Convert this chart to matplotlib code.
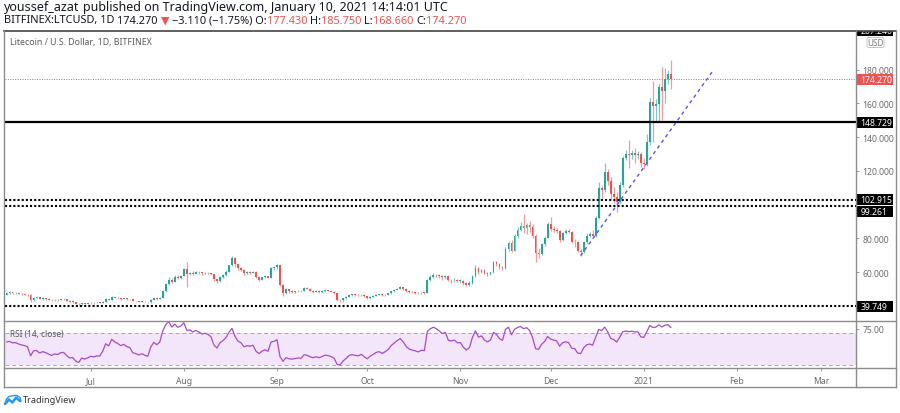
import numpy as np
import pandas as pd
import matplotlib
matplotlib.use("Agg")
import matplotlib.pyplot as plt
import matplotlib.dates as mdates
from matplotlib.lines import Line2D
from matplotlib.patches import Rectangle, FancyBboxPatch

plt.rcParams['font.family'] = ['Noto Sans', 'DejaVu Sans']

# LTC/USD daily candles, Bitfinex (first candle 2020-06-03)
start_date = "2020-06-03"

# May 14 - Jun 2 2020: only used to seed the RSI, not drawn
warmup_close = [43.5, 42.6, 43.9, 44.7, 45.2, 45.4, 43.8, 42.0, 43.3, 43.1,
                41.6, 42.6, 42.9, 45.2, 45.9, 45.8, 47.4, 46.2, 49.2, 46.6]

jun_close = [47.8, 48.1, 47.6, 47.7, 47.3, 47.0, 46.8, 46.5, 43.4, 45.0,
             45.1, 44.2, 44.6, 44.3, 43.8, 43.3, 43.7, 43.5, 43.9, 44.0,
             43.1, 42.4, 42.5, 41.4, 40.9, 41.7, 41.4, 41.6]
jun_high = [48.2, 48.9, 48.5, 48.1, 48.0, 47.6, 47.5, 47.3, 46.9, 45.6,
            45.8, 45.4, 45.1, 45.0, 44.6, 44.2, 44.2, 44.0, 44.3, 44.6,
            44.3, 43.4, 42.9, 42.6, 41.6, 41.9, 41.9, 42.0]
jun_low = [46.3, 47.3, 47.1, 47.2, 46.9, 46.6, 46.3, 46.1, 42.4, 43.1,
           44.6, 43.9, 43.7, 43.8, 43.4, 42.9, 43.1, 43.1, 43.3, 43.6,
           42.9, 42.1, 41.9, 41.1, 39.8, 40.6, 41.1, 41.0]

jul_close = [41.9, 41.7, 41.9, 41.8, 42.6, 44.1, 43.7, 45.4, 44.9, 44.6,
             44.2, 44.5, 44.1, 43.9, 42.9, 42.7, 42.4, 42.6, 42.3, 42.1,
             43.6, 44.6, 44.2, 44.8, 48.6, 52.8, 55.6, 54.3, 57.3, 56.4, 57.8]
jul_high = [42.2, 42.3, 42.2, 42.1, 42.9, 44.5, 44.4, 45.8, 45.6, 45.1,
            44.7, 44.8, 44.7, 44.3, 44.1, 43.2, 42.9, 42.9, 42.8, 42.6,
            43.9, 45.0, 45.1, 45.2, 49.7, 53.6, 57.2, 56.6, 58.1, 58.3, 58.6]
jul_low = [41.3, 41.3, 41.5, 41.5, 41.7, 42.4, 43.4, 43.6, 44.5, 44.1,
           43.8, 43.9, 43.8, 43.6, 42.7, 42.3, 42.1, 42.2, 42.1, 41.7,
           42.0, 43.5, 43.7, 43.9, 44.7, 48.2, 52.3, 53.6, 54.0, 55.8, 56.0]

aug_close = [61.8, 59.2, 59.8, 59.1, 60.4, 59.9, 59.3, 59.7, 59.4, 58.7,
             55.9, 54.7, 57.2, 58.4, 60.2, 64.1, 68.3, 64.9, 62.5, 61.6,
             59.3, 60.1, 59.8, 60.4, 57.1, 55.6, 56.9, 57.6, 56.8, 62.4, 62.9]
aug_high = [62.6, 65.8, 60.4, 60.5, 60.9, 60.8, 60.1, 60.1, 60.0, 59.8,
            59.1, 56.2, 57.6, 58.9, 61.3, 64.5, 69.4, 68.9, 65.1, 63.0,
            62.0, 60.6, 60.6, 61.0, 60.6, 57.6, 57.4, 58.2, 57.9, 62.9, 63.8]
aug_low = [57.5, 51.4, 58.6, 58.3, 58.7, 59.1, 58.3, 58.8, 58.7, 58.2,
           54.9, 53.6, 54.5, 56.8, 57.9, 59.9, 63.6, 63.2, 61.3, 60.6,
           58.6, 59.1, 59.1, 59.5, 56.5, 54.8, 55.3, 56.5, 56.4, 56.6, 61.5]

sep_close = [64.1, 52.4, 47.4, 49.9, 48.6, 48.2, 48.6, 48.9, 48.7, 50.6,
             50.2, 49.1, 48.4, 48.9, 48.2, 48.7, 49.3, 49.0, 48.5, 47.6,
             43.4, 43.3, 44.6, 45.5, 46.6, 46.9, 46.5, 46.3, 46.8, 45.8]
sep_high = [64.9, 64.3, 53.0, 50.4, 50.2, 49.2, 49.1, 49.5, 49.4, 51.2,
            51.1, 50.6, 49.4, 49.6, 49.2, 49.4, 49.8, 49.7, 49.3, 48.9,
            47.9, 44.4, 44.9, 46.0, 47.1, 47.3, 47.2, 46.9, 47.2, 46.9]
sep_low = [61.9, 51.6, 45.9, 46.9, 47.7, 47.6, 47.7, 48.2, 48.2, 48.6,
           49.8, 48.8, 47.9, 48.2, 47.8, 47.9, 48.4, 48.6, 48.1, 47.3,
           42.8, 42.4, 42.5, 44.4, 45.3, 46.2, 46.1, 45.9, 45.9, 45.4]

oct_close = [44.8, 45.6, 46.1, 46.7, 46.9, 46.3, 46.8, 47.4, 48.6, 49.4,
             50.3, 51.0, 50.2, 49.0, 48.3, 48.0, 47.8, 47.5, 47.9, 47.8,
             55.3, 57.2, 58.6, 58.2, 57.6, 56.9, 57.7, 55.4, 55.2, 55.6, 54.8]
oct_high = [46.1, 46.0, 46.4, 47.0, 47.3, 47.1, 47.2, 47.8, 49.0, 49.9,
            50.8, 51.7, 51.3, 50.4, 49.3, 48.7, 48.3, 48.1, 48.3, 48.3,
            56.1, 58.4, 59.4, 59.2, 58.8, 58.1, 58.3, 58.1, 56.2, 56.3, 56.2]
oct_low = [44.2, 44.3, 45.3, 45.9, 46.4, 45.9, 46.0, 46.5, 47.2, 48.4,
           49.2, 50.1, 49.6, 48.5, 47.6, 47.4, 47.2, 46.9, 47.2, 47.2,
           47.5, 54.6, 56.6, 57.4, 56.7, 55.6, 56.1, 54.8, 53.6, 54.3, 54.1]

nov_close = [54.9, 53.5, 52.6, 53.4, 57.9, 62.6, 60.3, 61.2, 59.6, 58.8,
             59.9, 65.8, 65.0, 63.2, 62.4, 73.9, 77.1, 72.8, 81.6, 85.3,
             87.6, 86.2, 88.2, 86.5, 81.6, 71.3, 70.6, 76.5, 80.3, 88.4]
nov_high = [55.8, 55.4, 54.0, 54.7, 58.6, 64.1, 63.2, 61.9, 62.1, 60.1,
            60.4, 66.7, 66.9, 65.6, 63.9, 75.1, 78.6, 78.9, 82.9, 86.6,
            89.9, 94.3, 89.2, 90.2, 88.7, 82.7, 74.6, 77.2, 81.4, 89.7]
nov_low = [53.9, 52.3, 51.6, 51.9, 53.1, 57.3, 58.9, 59.5, 58.9, 57.8,
           58.3, 59.4, 63.6, 61.9, 61.3, 62.0, 72.7, 71.9, 72.3, 80.5,
           84.3, 83.5, 82.6, 83.9, 80.2, 66.0, 68.5, 70.2, 75.4, 80.0]

dec_close = [85.8, 84.9, 84.2, 78.8, 83.4, 84.6, 83.9, 78.2, 77.9, 72.8,
             72.1, 78.0, 81.7, 82.6, 81.6, 92.4, 109.8, 108.6, 119.6, 114.3,
             106.3, 104.8, 101.5, 111.8, 127.5, 129.9, 129.2, 130.4, 129.6, 130.1, 124.6]
dec_high = [92.9, 87.2, 86.0, 84.9, 83.9, 85.6, 85.4, 84.5, 79.6, 78.3,
            73.6, 78.6, 83.0, 83.8, 84.8, 93.5, 113.7, 111.2, 124.8, 121.3,
            116.2, 110.4, 107.7, 113.4, 128.8, 132.5, 138.6, 132.6, 133.8, 131.9, 131.2]
dec_low = [84.6, 83.9, 83.3, 77.9, 78.3, 82.6, 83.0, 77.4, 74.8, 71.9,
           69.8, 71.6, 77.4, 80.6, 80.9, 80.8, 91.4, 103.9, 107.3, 111.5,
           103.6, 101.2, 95.8, 100.2, 110.6, 126.3, 121.8, 127.3, 124.9, 126.8, 122.4]

jan_close = [123.9, 137.2, 160.9, 158.4, 159.6, 169.7, 167.1, 174.6, 177.38, 174.27]
jan_high = [127.6, 142.1, 163.2, 173.3, 162.4, 172.1, 181.6, 181.2, 179.8, 185.75]
jan_low = [121.2, 122.9, 135.1, 137.0, 149.3, 149.6, 150.3, 160.4, 171.3, 168.66]

# horizontal levels drawn on the chart
solid_level = 148.729
dotted_levels = [102.915, 99.261, 39.749]
top_level = 207.240
last_price = 174.270

# dashed trend line
trend_dates = ["2020-12-11", "2021-01-24"]
trend_values = [69.8, 179.3]

month_ticks = ["2020-07-01", "2020-08-01", "2020-09-01", "2020-10-01", "2020-11-01",
               "2020-12-01", "2021-01-01", "2021-02-01", "2021-03-01"]
month_labels = ["Jul", "Aug", "Sep", "Oct", "Nov", "Dec", "2021", "Feb", "Mar"]
price_ticks = [60, 80, 120, 140, 160, 180]

close = np.array(jun_close + jul_close + aug_close + sep_close + oct_close +
                 nov_close + dec_close + jan_close)
high = np.array(jun_high + jul_high + aug_high + sep_high + oct_high +
                nov_high + dec_high + jan_high)
low = np.array(jun_low + jul_low + aug_low + sep_low + oct_low +
               nov_low + dec_low + jan_low)
opn = np.r_[warmup_close[-1], close[:-1]]
high = np.maximum(high, np.maximum(opn, close))
low = np.minimum(low, np.minimum(opn, close))

dates = pd.date_range(start_date, periods=len(close), freq="D")
x = mdates.date2num(dates)

# RSI(14), Wilder smoothing
allc = np.array(warmup_close + list(close))
d = np.diff(allc)
g = np.clip(d, 0, None)
l = np.clip(-d, 0, None)
ag, al = g[:14].mean(), l[:14].mean()
rsi_all = [np.nan] * 14
for i in range(14, len(d)):
    ag = (ag * 13 + g[i]) / 14
    al = (al * 13 + l[i]) / 14
    rsi_all.append(100 - 100 / (1 + ag / al))
rsi = np.array(rsi_all)[-len(close):]

# ---------------- figure ----------------
W, H = 900, 414
fig = plt.figure(figsize=(9, 4.14), dpi=100)


def rect(x0, y0, x1, y1):
    return [x0 / W, 1 - y1 / H, (x1 - x0) / W, (y1 - y0) / H]


def fline(x0, y0, x1, y1, color="#8c8c8c", lw=1.0):
    fig.add_artist(Line2D([x0 / W, x1 / W], [1 - y0 / H, 1 - y1 / H], color=color, lw=lw))


x_left = mdates.date2num(pd.Timestamp("2020-07-01")) - 28.5
x_right = mdates.date2num(pd.Timestamp("2021-03-01")) + 11.6
ymin, ymax = 31.7, 202.9

up, down = "#26a69a", "#ef5350"
col = np.where(close >= opn, up, down)

ax = fig.add_axes(rect(5, 32, 856, 321))
ax.set_xlim(x_left, x_right)
ax.set_ylim(ymin, ymax)
ax.vlines(x, low, high, colors=col, lw=0.9, alpha=0.6)
body = np.maximum(np.abs(close - opn), 0.3)
ax.bar(x, body, bottom=np.minimum(opn, close), width=0.62, color=col, lw=0)

ax.axhline(solid_level, color="black", lw=1.6)
for v in dotted_levels:
    ax.axhline(v, color="black", lw=1.5, ls=(0, (1, 1)))
ax.axhline(last_price, color=down, lw=0.7, ls=(0, (1, 1.5)))
ax.plot(mdates.date2num(pd.to_datetime(trend_dates)), trend_values,
        color="#5555f5", lw=1.0, ls=(0, (2.5, 2.5)))

for s in ax.spines.values():
    s.set_visible(False)
ax.set_xticks([])
ax.yaxis.tick_right()
ax.set_yticks(price_ticks)
ax.set_yticklabels([f"{v:.3f}" for v in price_ticks])
ax.tick_params(axis="y", length=2.5, width=0.7, color="#9a9a9a",
               labelcolor="#6a6a6a", labelsize=6.2, pad=2)

# price scale labels
pax = fig.add_axes(rect(856, 32, 896, 321))
pax.set_xlim(0, 40)
pax.set_ylim(ymin, ymax)
pax.axis("off")
upp = (ymax - ymin) / 289      # data units per pixel
bh = 11 * upp


def price_label(yc, txt, face):
    pax.add_patch(Rectangle((1, yc - bh / 2), 36, bh, color=face, lw=0, clip_on=True))
    pax.text(4.5, yc, txt, color="white", fontsize=6.2, fontweight="bold",
             va="center", ha="left", clip_on=True)


price_label(ymax + 0.5 * upp, f"{top_level:.3f}", "black")
price_label(last_price, f"{last_price:.3f}", down)
price_label(solid_level, f"{solid_level:.3f}", "black")
price_label(dotted_levels[0], f"{dotted_levels[0]:.3f}", "black")
price_label(dotted_levels[1] - 5.7 * upp, f"{dotted_levels[1]:.3f}", "black")
price_label(dotted_levels[2], f"{dotted_levels[2]:.3f}", "black")
pax.add_patch(FancyBboxPatch((11, ymax - 16.5 * upp), 17, 10 * upp,
                             boxstyle="round,pad=0,rounding_size=2", fc="white",
                             ec="#c4c4c4", lw=0.7, mutation_aspect=upp))
pax.text(19.5, ymax - 11.5 * upp, "USD", fontsize=5.8, color="#7a7a7a",
         ha="center", va="center")

# RSI pane
rax = fig.add_axes(rect(5, 322, 856, 369))
rax.set_xlim(x_left, x_right)
rax.set_ylim(26.3, 84.8)
rax.axhspan(30, 70, color="#f3e6fb", lw=0)
rax.axhline(70, color="#a8a8a8", lw=0.7, ls=(0, (4, 3)))
rax.axhline(30, color="#a8a8a8", lw=0.7, ls=(0, (4, 3)))
rax.plot(x, rsi, color="#a54cc7", lw=0.9)
for s in rax.spines.values():
    s.set_visible(False)
rax.yaxis.tick_right()
rax.set_yticks([75])
rax.set_yticklabels(["75.00"])
rax.tick_params(axis="y", length=2.5, width=0.7, color="#9a9a9a",
                labelcolor="#6a6a6a", labelsize=6.2, pad=2)
rax.set_xticks(mdates.date2num(pd.to_datetime(month_ticks)))
rax.set_xticklabels(month_labels)
rax.tick_params(axis="x", length=2.5, width=0.7, color="#9a9a9a",
                labelcolor="#6a6a6a", labelsize=6.2, pad=3)

# frame
fline(4, 32, 896, 32, color="#444444", lw=1.2)
fline(4, 388, 896, 388)
fline(4, 32, 4, 388)
fline(896, 32, 896, 388)
fline(856, 32, 856, 388)
fline(4, 321.5, 896, 321.5)
fline(4, 369, 896, 369)

fig.text(10 / W, 1 - 43 / H, "Litecoin / U.S. Dollar, 1D, BITFINEX", fontsize=6.3,
         color="#5a5a5a", va="center")
fig.text(10 / W, 1 - 334 / H, "RSI (14, close)", fontsize=6.0, color="#5a5a5a", va="center")

# header lines built from coloured runs
renderer = fig.canvas.get_renderer()


def width_px(t):
    return t.get_window_extent(renderer).width


def runs(x0, y0, parts, size):
    probe = fig.text(0, 0, "x x", fontsize=size)
    probe2 = fig.text(0, 0, "xx", fontsize=size)
    sp = width_px(probe) - width_px(probe2)
    probe.remove()
    probe2.remove()
    xx = x0
    for txt, color, weight, gap in parts:
        t = fig.text(xx / W, 1 - y0 / H, txt, fontsize=size, color=color,
                     fontweight=weight, va="center", ha="left")
        xx += width_px(t) + gap * sp


dark = "#131722"
runs(4, 8, [("youssef_azat", dark, "bold", 1),
            ("published on TradingView.com, January 10, 2021 14:14:01 UTC", dark, "normal", 0)], 9.0)
runs(4, 21, [("BITFINEX:LTCUSD, 1D", dark, "bold", 1),
             ("174.270", dark, "normal", 1),
             ("\u25bc", down, "normal", 1),
             ("\u22123.110 (\u22121.75%) O:", dark, "normal", 0),
             ("177.430", down, "normal", 1),
             ("H:", dark, "normal", 0),
             ("185.750", down, "normal", 1),
             ("L:", dark, "normal", 0),
             ("168.660", down, "normal", 1),
             ("C:", dark, "normal", 0),
             ("174.270", down, "normal", 0)], 7.9)

# TradingView logo
fig.add_artist(Line2D(np.array([5, 9, 12.5, 16, 20]) / W, 1 - np.array([405, 400.5, 403.5, 398.5, 402]) / H,
                      color="#2196f3", lw=1.8, solid_capstyle="round"))
fig.add_artist(Line2D(np.array([5, 6.5, 9, 11.5, 14, 17, 20, 21]) / W,
                      1 - np.array([405, 400, 397.5, 397, 396.5, 396.5, 398.5, 402]) / H,
                      color="#2196f3", lw=1.0))
fig.text(23 / W, 1 - 401 / H, "TradingView", fontsize=6.6, color="#333333", va="center")

fig.savefig("out.png", dpi=100, facecolor="white")
